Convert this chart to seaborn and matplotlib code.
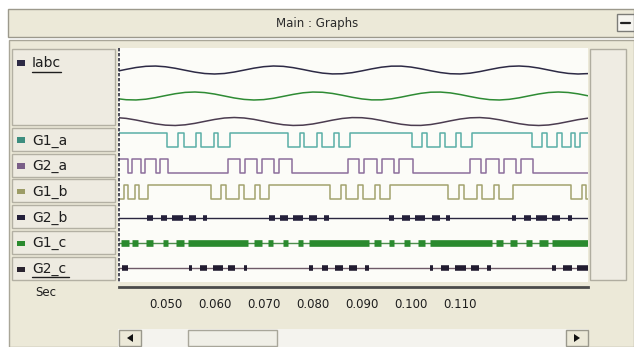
import matplotlib
matplotlib.use("Agg")
import matplotlib.pyplot as plt
from matplotlib.patches import Rectangle, Polygon
from matplotlib.lines import Line2D
import pandas as pd
import seaborn as sns

sns.set_style("white")
plt.rcParams["font.family"] = ["DejaVu Sans"]

# ---------------- data ----------------
title = "Main : Graphs"
x_label = "Sec"
x_ticks = [0.050, 0.060, 0.070, 0.080, 0.090, 0.100, 0.110]
x_range = (0.04044, 0.13604)
channel_labels = ["Iabc", "G1_a", "G2_a", "G1_b", "G2_b", "G1_c", "G2_c"]

# Iabc (normalised), sampled in ms
t_iabc_ms = [40, 42, 44, 46, 48, 50, 52, 54, 56, 58, 60, 62, 64, 66, 68, 70, 72, 74, 76, 78,
             80, 82, 84, 86, 88, 90, 92, 94, 96, 98, 100, 102, 104, 106, 108, 110, 112, 114,
             116, 118, 120, 122, 124, 126, 128, 130, 132, 134, 136]
ia = [-0.34, 0.16, 0.62, 0.92, 0.99, 0.81, 0.43, -0.06, -0.54, -0.88, -1.00, -0.87, -0.51,
      -0.03, 0.46, 0.83, 1.00, 0.91, 0.59, 0.13, -0.37, -0.78, -0.98, -0.94, -0.67, -0.22,
      0.28, 0.71, 0.96, 0.97, 0.73, 0.31, -0.19, -0.64, -0.93, -0.99, -0.80, -0.40, 0.10,
      0.57, 0.90, 1.00, 0.85, 0.49, 0.00, -0.49, -0.85, -1.00, -0.90]
ib = [-0.64, -0.93, -0.99, -0.80, -0.40, 0.10, 0.57, 0.90, 1.00, 0.85, 0.49, 0.00, -0.49,
      -0.85, -1.00, -0.90, -0.57, -0.09, 0.40, 0.80, 0.99, 0.93, 0.64, 0.19, -0.31, -0.73,
      -0.97, -0.96, -0.71, -0.28, 0.22, 0.67, 0.95, 0.98, 0.78, 0.37, -0.13, -0.59, -0.91,
      -1.00, -0.83, -0.46, 0.03, 0.51, 0.87, 1.00, 0.88, 0.54, 0.06]
ic = [0.98, 0.78, 0.37, -0.13, -0.59, -0.91, -1.00, -0.83, -0.46, 0.03, 0.51, 0.87, 1.00,
      0.88, 0.54, 0.06, -0.43, -0.81, -0.99, -0.92, -0.62, -0.16, 0.34, 0.76, 0.98, 0.95,
      0.69, 0.25, -0.25, -0.69, -0.96, -0.98, -0.76, -0.34, 0.16, 0.62, 0.92, 0.99, 0.81,
      0.43, -0.06, -0.54, -0.88, -1.00, -0.87, -0.51, -0.03, 0.46, 0.83]

# gate signals: pulse intervals in ms
g1a_low = [(50.4, 52.6), (53.7, 56.3), (57.3, 59.8), (60.8, 63.2),
           (75.0, 77.3), (78.3, 80.9), (81.9, 84.4), (85.4, 87.6),
           (100.2, 102.3), (103.3, 105.9), (107.0, 109.2), (110.2, 112.4),
           (124.6, 126.7), (127.7, 129.7), (130.8, 132.6), (133.4, 134.4)]
g2a_high = [(39.0, 42.3), (43.1, 45.1), (45.9, 48.0), (48.8, 50.6),
            (62.8, 65.1), (66.1, 68.7), (69.7, 72.2), (73.2, 75.8),
            (87.2, 89.5), (90.5, 93.1), (94.1, 96.6), (97.6, 100.4),
            (112.0, 114.3), (115.3, 117.9), (119.0, 121.4), (122.4, 124.9)]
g1b_low = [(39.0, 41.5), (42.3, 43.9), (44.7, 46.5),
           (59.2, 61.4), (62.4, 64.9), (65.9, 68.3), (69.3, 71.0),
           (83.6, 85.8), (86.8, 89.3), (90.3, 92.7), (93.7, 95.8),
           (107.6, 109.8), (110.8, 113.5), (114.5, 116.9), (117.9, 120.8),
           (132.6, 134.8), (135.6, 137.0)]
g2b_blobs = [(46.3, 47.4), (49.0, 50.4), (51.4, 53.5), (54.7, 56.3), (57.7, 58.5),
             (71.0, 72.4), (73.4, 75.0), (76.0, 78.1), (79.3, 80.9), (82.3, 83.4),
             (95.6, 96.6), (98.2, 99.8), (100.9, 102.9), (104.3, 105.9), (107.2, 108.0),
             (120.6, 121.4), (123.0, 124.4), (125.5, 127.7), (128.7, 130.4), (132.0, 132.8)]
g1c_blobs = [(40.85, 42.5), (43.1, 44.5), (46.1, 47.4), (49.4, 50.6), (52.2, 53.7),
             (54.5, 66.9), (68.1, 69.7), (70.8, 72.0), (74.0, 75.0), (76.9, 78.1),
             (79.3, 91.5), (92.5, 93.9), (95.6, 96.6), (98.6, 99.8), (101.5, 102.9),
             (103.9, 116.5), (117.3, 118.8), (120.2, 121.6), (123.4, 124.7), (126.1, 127.9),
             (128.7, 137.0)]
g2c_blobs = [(41.25, 42.3), (54.7, 55.5), (57.1, 58.5), (59.6, 61.8), (62.8, 64.2),
             (65.9, 66.7), (79.3, 80.1), (81.9, 83.2), (84.6, 86.2), (87.4, 89.1),
             (90.7, 91.5), (103.9, 104.5), (106.1, 107.8), (109.0, 111.2), (112.2, 113.9),
             (115.5, 116.3), (128.7, 129.5), (131.0, 132.8), (133.8, 137.0)]

# ---------------- figure helpers ----------------
W, H = 634, 347
fig = plt.figure(figsize=(W / 100, H / 100), dpi=100, facecolor="white")

BEIGE = "#ECE9D8"


def px_rect(x0, y0, x1, y1, fc="none", ec="none", lw=1.0, z=-5):
    fig.add_artist(Rectangle((x0 / W, 1 - y1 / H), (x1 - x0) / W, (y1 - y0) / H,
                             transform=fig.transFigure, facecolor=fc, edgecolor=ec,
                             linewidth=lw, zorder=z))


def px_line(xs, ys, color, lw=1.0, ls="-", z=5):
    fig.add_artist(Line2D([x / W for x in xs], [1 - y / H for y in ys],
                          transform=fig.transFigure, color=color, lw=lw, ls=ls, zorder=z))


def px_text(x, y, s, **kw):
    fig.text(x / W, 1 - y / H, s, **kw)


def px_axes(x0, y0, x1, y1):
    ax = fig.add_axes([x0 / W, 1 - y1 / H, (x1 - x0) / W, (y1 - y0) / H])
    ax.set_facecolor("none")
    return ax


def px_tri(pts, color):
    fig.add_artist(Polygon([(x / W, 1 - y / H) for x, y in pts], closed=True,
                           transform=fig.transFigure, facecolor=color,
                           edgecolor="none", zorder=6))


# ---------------- chrome ----------------
px_rect(9, 40, 634, 347, fc=BEIGE, ec="#A9A698", lw=1.0, z=-10)
px_rect(8, 9, 634, 37, fc=BEIGE, ec="#9C998C", lw=1.0, z=-9)
px_text(317, 23, title, ha="center", va="center", fontsize=8.5, color="#2A2A2A")
px_rect(617, 14, 634, 31, fc="#F6F5F0", ec="#7C7C78", lw=1.0, z=-8)
px_line([621, 630], [23, 23], "#222222", lw=1.6)

# plot area
px_rect(118, 48, 588, 282, fc="#FCFCF8", ec="none", z=-8)
px_line([118.5, 118.5], [48, 282], "#2E2E3E", lw=1.2, ls=(0, (2, 1)))
# right empty panel
px_rect(590, 49, 626, 280, fc="#EFECE3", ec="#B0ADA0", lw=1.0, z=-8)

# label boxes
label_colors = ["#2D2A45", "#3E8E80", "#7A5F88", "#9C9C66", "#24203A", "#2A8A2E", "#2A2430"]
box_tops = [49, 128, 153.5, 179, 205, 231, 257]
box_bots = [125, 151, 176.5, 202, 228, 254, 280]
for lab, col, t0, t1 in zip(channel_labels, label_colors, box_tops, box_bots):
    px_rect(12, t0, 115, t1, fc="#EEEBE1", ec="#B3B0A3", lw=1.0, z=-7)
    yc = 63 if lab == "Iabc" else (t0 + t1) / 2 + 1
    px_rect(17, yc - 3, 25, yc + 2.5, fc=col, ec="none", z=5)
    px_text(32, yc, lab, ha="left", va="center", fontsize=10, color="#1E1E1E")
px_line([32, 61], [71.5, 71.5], "#1E1E1E", lw=1.0)
px_line([32, 69], [276.5, 276.5], "#1E1E1E", lw=1.0)

# ---------------- traces ----------------
def ms_to_s(vals):
    return [v / 1000.0 for v in vals]


def finish(ax, ylim):
    ax.set_xlim(*x_range)
    ax.set_ylim(*ylim)
    ax.set_axis_off()


# Iabc
iabc_df = pd.DataFrame({"t": ms_to_s(t_iabc_ms), "Ia": ia, "Ib": ib, "Ic": ic})
for name, col, yc in [("Ia", "#2D2A45", 70), ("Ib", "#2E8B34", 96), ("Ic", "#4B3C50", 121.5)]:
    ax = px_axes(118.5, yc - 10, 588, yc + 10)
    sns.lineplot(data=iabc_df, x="t", y=name, ax=ax, color=col, lw=1.1,
                 estimator=None, sort=False)
    finish(ax, (-2.5, 2.5))


def step_df(pulses, base, active):
    t = [38.0]
    v = [base]
    for a, b in pulses:
        t += [a, b]
        v += [active, base]
    t.append(139.0)
    v.append(v[-1])
    return pd.DataFrame({"t": ms_to_s(t), "v": v})


for pulses, base, active, col, yc in [(g1a_low, 1, 0, "#5AAEA6", 140),
                                      (g2a_high, 0, 1, "#8C6E9C", 166),
                                      (g1b_low, 1, 0, "#A3A36E", 192)]:
    ax = px_axes(118.5, yc - 12, 588, yc + 12)
    sns.lineplot(data=step_df(pulses, base, active), x="t", y="v", ax=ax, color=col,
                 lw=1.1, estimator=None, sort=False, drawstyle="steps-post")
    finish(ax, (-0.36, 1.36))


def blob_df(blobs):
    rows = []
    for i, (a, b) in enumerate(blobs):
        rows.append({"t": a / 1000.0, "v": 0.0, "seg": i})
        rows.append({"t": b / 1000.0, "v": 0.0, "seg": i})
    return pd.DataFrame(rows)


for blobs, lcol, bcol, bw, yc in [(g2b_blobs, "#2A2640", "#24203A", 4.0, 218),
                                  (g1c_blobs, "#4E8E4E", "#2A8A2E", 4.8, 243),
                                  (g2c_blobs, "#6E5A68", "#221C30", 4.0, 268)]:
    ax = px_axes(118.5, yc - 12, 588, yc + 12)
    base = pd.DataFrame({"t": [0.038, 0.139], "v": [0.0, 0.0]})
    sns.lineplot(data=base, x="t", y="v", ax=ax, color=lcol, lw=1.0,
                 estimator=None, sort=False)
    sns.lineplot(data=blob_df(blobs), x="t", y="v", units="seg", ax=ax, color=bcol,
                 lw=bw, estimator=None, sort=False, solid_capstyle="butt", legend=False)
    finish(ax, (-1, 1))

# ---------------- time axis ----------------
axx = px_axes(118.5, 250, 588, 287)
axx.set_xlim(*x_range)
axx.set_ylim(0, 1)
for s in ["top", "left", "right"]:
    axx.spines[s].set_visible(False)
axx.spines["bottom"].set_color("#4A4A4A")
axx.spines["bottom"].set_linewidth(2.0)
axx.set_yticks([])
axx.set_xticks(x_ticks)
axx.set_xticklabels([f"{v:.3f}" for v in x_ticks], fontsize=8.5, color="#1E1E1E")
axx.tick_params(axis="x", direction="out", length=5, width=1.0, color="#3A3A3A", pad=3)
px_text(46, 293, x_label, ha="center", va="center", fontsize=8.5, color="#1E1E1E")

# ---------------- scrollbar ----------------
px_rect(118, 329, 588, 347, fc="#F4F3EE", ec="none", z=-6)
px_rect(119, 330, 141, 346, fc=BEIGE, ec="#9A988C", lw=1.0, z=-5)
px_rect(566, 330, 588, 346, fc=BEIGE, ec="#9A988C", lw=1.0, z=-5)
px_rect(188, 330, 277, 346, fc="#F0EFE7", ec="#A8A69A", lw=1.0, z=-5)
px_tri([(127, 338), (133, 334), (133, 342)], "#111111")
px_tri([(580, 338), (574, 334), (574, 342)], "#111111")

fig.savefig("out.png", dpi=100, facecolor=fig.get_facecolor())
